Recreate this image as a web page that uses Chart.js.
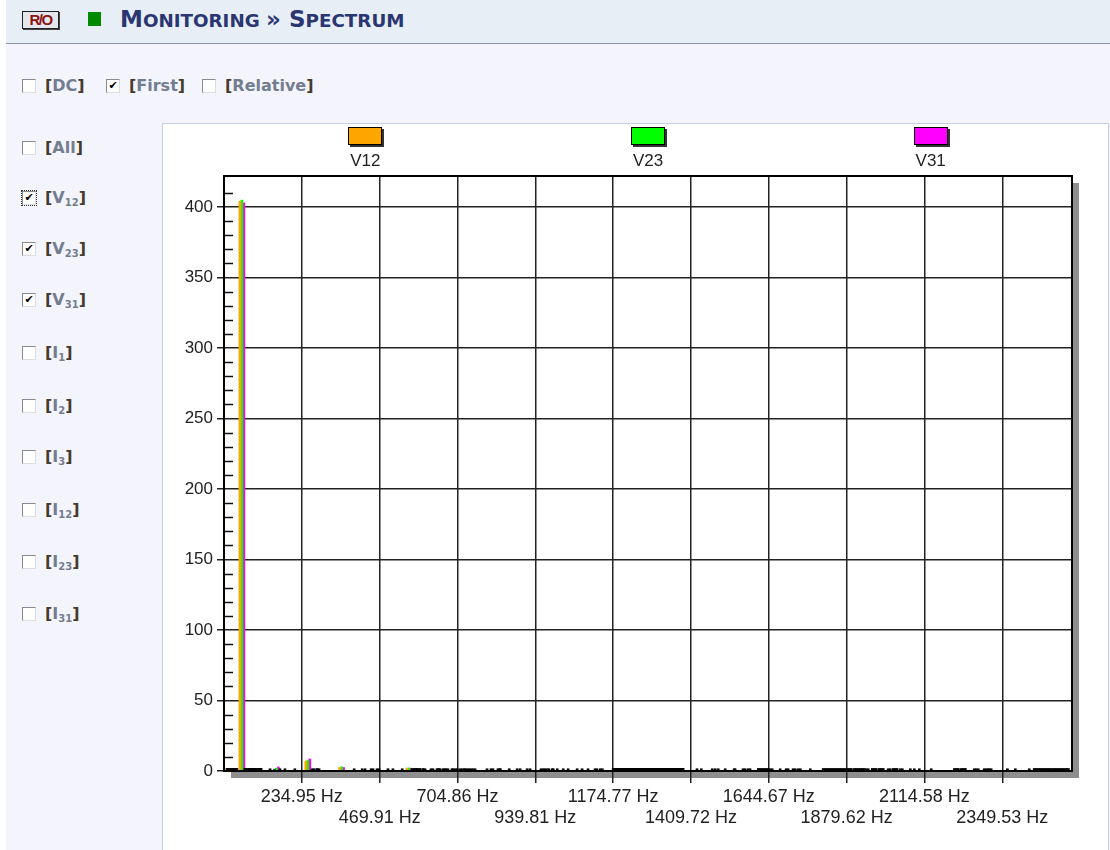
<!DOCTYPE html>
<html>
<head>
<meta charset="utf-8">
<script src="https://cdn.jsdelivr.net/npm/chart.js@4.4.0/dist/chart.umd.min.js"></script>
<style>
  html, body { margin:0; padding:0; width:1110px; height:850px; overflow:hidden; background:#fff; }
  #page { position:absolute; left:6px; top:0; width:1104px; height:850px; background:#f3f4fc; }
  #header { position:absolute; left:6px; top:0; width:1104px; height:43px; background:#e8eef5; border-bottom:1.5px solid #8795a5; }
  #ro { position:absolute; left:22px; top:11px; width:35px; height:16px; border:1px solid #222; box-shadow:1px 1px 0 #444; background:#e4e8ee;
        font:bold 15px "Liberation Sans", Arial, sans-serif; color:#8c1414; letter-spacing:-1.5px; text-align:center; line-height:16px; }
  #sq { position:absolute; left:88px; top:12px; width:13px; height:14px; background:#008a00; }
  #title { position:absolute; left:120px; top:6px; font-family:"DejaVu Sans", Verdana, sans-serif; font-weight:bold; color:#2a3672; white-space:nowrap; }
  #title .big { font-size:23px; }
  #title .sm { font-size:18.3px; }
  .cb { position:absolute; width:12px; height:12px; background:#fff; border:1px solid; border-color:#8a8a8a #dcdcdc #dcdcdc #8a8a8a;
        font:bold 11px "DejaVu Sans", sans-serif; line-height:12px; text-align:center; color:#000; }
  .cb.focus { outline:1px dotted #333; outline-offset:0; }
  .lbl { position:absolute; font:bold 16px "DejaVu Sans", Verdana, sans-serif; color:#737d90; line-height:20px; white-space:nowrap; }
  .lbl b { color:#463a2e; font-weight:bold; }
  .lbl sub { font-size:10px; vertical-align:-3px; line-height:0; }
  #panel { position:absolute; left:162px; top:123px; width:945px; height:740px; background:#fff; border:1px solid #c3d0e4; }
  #c { position:absolute; left:0; top:0; }
</style>
</head>
<body>
<div id="page"></div>
<div id="header"></div>
<div id="ro">R/O</div>
<div id="sq"></div>
<div id="title"><span class="big">M</span><span class="sm">ONITORING </span><span class="big">» S</span><span class="sm">PECTRUM</span></div>

<div class="cb" style="left:22px;top:79px"></div>
<div class="lbl" style="left:45px;top:76px"><b>[</b>DC<b>]</b></div>
<div class="cb" style="left:106px;top:79px">✔</div>
<div class="lbl" style="left:129px;top:76px"><b>[</b>First<b>]</b></div>
<div class="cb" style="left:202px;top:79px"></div>
<div class="lbl" style="left:225px;top:76px"><b>[</b>Relative<b>]</b></div>

<div id="side"></div>

<div id="panel"><canvas id="c" width="945" height="726"></canvas></div>

<script>
// ---- series ----
const seriesNames  = ['V12', 'V23', 'V31'];
const seriesColors = ['#FFA500', '#00FF00', '#FF00FF'];

// frequencies (Hz) of the drawn spectral lines
const freqs = [
  15, 33, 54, 69, 88, 106, 133, 158, 169, 178,
  220, 253, 272, 281, 287, 355, 387, 417, 432, 450,
  462, 495, 516, 532, 558, 574, 586, 601, 607, 631,
  643, 652, 661, 676, 682, 698, 704, 719, 734, 752,
  794, 812, 827, 840, 855, 885, 900, 909, 924, 963,
  981, 991, 1000, 1024, 1045, 1060, 1081, 1105, 1126, 1136,
  1181, 1199, 1217, 1235, 1253, 1271, 1290, 1308, 1326, 1344,
  1362, 1380, 1428, 1447, 1468, 1483, 1498, 1513, 1534, 1549,
  1573, 1582, 1619, 1637, 1655, 1679, 1703, 1718, 1733, 1746,
  1764, 1815, 1833, 1851, 1869, 1888, 1909, 1927, 1945, 1963,
  1984, 2005, 2026, 2048, 2078, 2099, 2141, 2211, 2232, 2271,
  2301, 2316, 2365, 2395, 2425, 2452, 2470, 2488, 2507, 2525,
  2543
];
const v12 = [
  1.9, 1.9, 404, 1.9, 1.9, 1.9, 0, 1, 0, 0,
  1.6, 7, 1.6, 0, 1.6, 2.5, 0, 0, 1.6, 1.6,
  0, 0, 1.6, 0, 2, 1.8, 1.8, 0, 1.6, 1.6,
  0, 1.6, 0, 1.6, 0, 1.6, 0, 1.6, 1.6, 1.6,
  0, 1.6, 0, 1.6, 0, 0, 1.6, 0, 0, 1.6,
  1.6, 0, 1.6, 0, 1.6, 0, 0, 1.6, 1.6, 0,
  1.9, 1.9, 1.9, 1.9, 1.9, 1.9, 1.9, 1.9, 1.9, 1.9,
  1.9, 1.9, 0, 1.6, 0, 0, 1.6, 0, 0, 1.6,
  1.6, 0, 1.8, 1.8, 1.6, 0, 1.6, 0, 0, 1.6,
  0, 1.8, 1.8, 1.8, 1.8, 1.8, 1.8, 1.8, 1.6, 1.8,
  1.8, 0, 1.8, 1.6, 1.6, 0, 1.6, 1.8, 1.8, 1.6,
  1.6, 1.6, 0, 1.6, 0, 1.8, 1.8, 1.8, 1.8, 1.8,
  1.8
];
const v23 = [
  1.9, 1.9, 405, 1.9, 1.9, 1.9, 0, 2, 1.6, 0,
  0, 7.5, 1.6, 1.6, 0, 3, 0, 1.6, 0, 1.6,
  1.6, 1.6, 0, 0, 2.2, 1.8, 1.8, 1.6, 0, 1.6,
  1.6, 1.6, 1.6, 1.6, 0, 1.6, 1.6, 1.6, 1.6, 1.6,
  1.6, 1.6, 1.6, 0, 0, 1.6, 0, 0, 1.6, 1.6,
  1.6, 1.6, 0, 1.6, 0, 0, 1.6, 0, 1.6, 1.6,
  1.9, 1.9, 1.9, 1.9, 1.9, 1.9, 1.9, 1.9, 1.9, 1.9,
  1.9, 1.9, 1.6, 0, 0, 1.6, 0, 1.6, 0, 0,
  1.6, 1.6, 1.8, 1.8, 1.6, 1.6, 1.6, 1.6, 1.6, 0,
  0, 1.8, 1.8, 1.8, 1.8, 1.8, 1.8, 1.8, 1.6, 1.8,
  1.8, 1.6, 1.8, 1.6, 0, 1.6, 0, 1.8, 1.8, 1.6,
  1.6, 1.6, 1.6, 0, 0, 1.8, 1.8, 1.8, 1.8, 1.8,
  1.8
];
const v31 = [
  1.9, 1.9, 403, 1.9, 1.9, 1.9, 1.6, 2.8, 0, 1.6,
  0, 8.5, 0, 1.6, 0, 2.5, 1.6, 0, 0, 0,
  1.6, 0, 0, 1.6, 2, 1.8, 1.8, 1.6, 0, 0,
  1.6, 0, 1.6, 0, 1.6, 0, 0, 1.6, 1.6, 1.6,
  0, 0, 1.6, 0, 1.6, 0, 0, 1.6, 0, 1.6,
  0, 0, 1.6, 0, 0, 1.6, 0, 0, 0, 1.6,
  1.9, 1.9, 1.9, 1.9, 1.9, 1.9, 1.9, 1.9, 1.9, 1.9,
  1.9, 1.9, 0, 0, 1.6, 0, 0, 0, 1.6, 0,
  0, 1.6, 1.8, 1.8, 0, 0, 0, 1.6, 0, 0,
  1.6, 1.8, 1.8, 1.8, 1.8, 1.8, 1.8, 1.8, 0, 1.8,
  1.8, 1.6, 1.8, 0, 1.6, 0, 0, 1.8, 1.8, 1.6,
  1.6, 0, 0, 0, 1.6, 1.8, 1.8, 1.8, 1.8, 1.8,
  1.8
];

// x-axis tick positions and labels
const tickHz = [234.95, 469.91, 704.86, 939.81, 1174.77, 1409.72, 1644.67, 1879.62, 2114.58, 2349.53];
const tickLabels = ['234.95 Hz', '469.91 Hz', '704.86 Hz', '939.81 Hz', '1174.77 Hz', '1409.72 Hz', '1644.67 Hz', '1879.62 Hz', '2114.58 Hz', '2349.53 Hz'];
const xMax = 2560;
const yMax = 422;

// side checkbox list
const sideItems = [
  ['All', '', false], ['V', '12', true], ['V', '23', true], ['V', '31', true],
  ['I', '1', false], ['I', '2', false], ['I', '3', false],
  ['I', '12', false], ['I', '23', false], ['I', '31', false]
];
const sideCenters = [148, 198, 249, 300, 353, 406, 457, 510, 562, 614];

// ---- build side checkboxes ----
const side = document.getElementById('side');
sideItems.forEach((it, i) => {
  const cy = sideCenters[i];
  const cb = document.createElement('div');
  cb.className = 'cb' + (i === 1 ? ' focus' : '');
  cb.style.left = '22px'; cb.style.top = (cy - 7) + 'px';
  if (it[2]) cb.textContent = '✔';
  side.appendChild(cb);
  const lb = document.createElement('div');
  lb.className = 'lbl';
  lb.style.left = '45px'; lb.style.top = (cy - 10) + 'px';
  lb.innerHTML = '<b>[</b>' + it[0] + (it[1] ? '<sub>' + it[1] + '</sub>' : '') + '<b>]</b>';
  side.appendChild(lb);
});

// ---- chart ----
Chart.defaults.font.family = '"Liberation Sans", Arial, sans-serif';

const frame = {
  id: 'frame',
  beforeDraw(chart) {
    const { ctx, chartArea: a } = chart;
    ctx.save();
    ctx.fillStyle = '#8e8e8e';
    ctx.fillRect(a.left + 7, a.top + 7, a.right - a.left, a.bottom - a.top);
    ctx.fillStyle = '#ffffff';
    ctx.fillRect(a.left, a.top, a.right - a.left, a.bottom - a.top);
    ctx.restore();
  },
  afterDatasetsDraw(chart) {
    const { ctx, chartArea: a } = chart;
    const ys = chart.scales.y;
    ctx.save();
    ctx.strokeStyle = '#111';
    ctx.lineWidth = 1.5;
    ys.ticks.forEach(t => {
      if (Math.round(t.value) % 50 !== 0) {
        const y = Math.round(ys.getPixelForValue(t.value)) + 0.5;
        ctx.beginPath();
        ctx.moveTo(a.left + 1, y);
        ctx.lineTo(a.left + 9, y);
        ctx.stroke();
      }
    });
    ctx.strokeStyle = '#000';
    ctx.lineWidth = 2;
    ctx.strokeRect(a.left, a.top, a.right - a.left, a.bottom - a.top);
    ctx.restore();
  },
  afterDraw(chart) {
    const { ctx, chartArea: a } = chart;
    const w = (a.right - a.left) / seriesNames.length;
    ctx.save();
    seriesNames.forEach((name, i) => {
      const cx = a.left + (i + 0.5) * w;
      const bx = Math.round(cx - 17), by = 3;
      ctx.fillStyle = '#333';
      ctx.fillRect(bx + 2, by + 2, 34, 18);
      ctx.fillStyle = seriesColors[i];
      ctx.fillRect(bx, by, 34, 18);
      ctx.strokeStyle = '#000';
      ctx.lineWidth = 1;
      ctx.strokeRect(bx + 0.5, by + 0.5, 33, 17);
      ctx.fillStyle = '#222';
      ctx.font = '17px "Liberation Sans", Arial, sans-serif';
      ctx.textAlign = 'center';
      ctx.textBaseline = 'middle';
      ctx.fillText(name, cx, 37);
    });
    ctx.restore();
  }
};

const datasets = [v12, v23, v31].map((vals, i) => ({
  label: seriesNames[i],
  data: freqs.map((f, j) => ({ x: f, y: vals[j] })),
  backgroundColor: c => (c.raw && c.raw.y < 2) ? '#000' : seriesColors[i],
  borderWidth: 0,
  barThickness: 2
}));

new Chart(document.getElementById('c'), {
  type: 'bar',
  data: { datasets },
  options: {
    responsive: false,
    animation: false,
    devicePixelRatio: 1,
    layout: { padding: { top: 52, right: 36, left: 0, bottom: 0 } },
    plugins: { legend: { display: false }, tooltip: { enabled: false } },
    scales: {
      x: {
        type: 'linear',
        min: 0,
        max: xMax,
        offset: false,
        afterBuildTicks: s => { s.ticks = tickHz.map(v => ({ value: v })); },
        afterFit: s => { s.height = 79; },
        ticks: {
          autoSkip: false, maxRotation: 0, minRotation: 0, padding: 3,
          color: '#222',
          font: { size: 18, lineHeight: 1.2 },
          callback: (v, i) => (i % 2 === 0 ? [tickLabels[i]] : ['', tickLabels[i]])
        },
        grid: { offset: false, color: '#222', lineWidth: 1.5, tickLength: 12, tickColor: '#222', tickWidth: 1.5 },
        border: { display: true, color: '#000', width: 2 }
      },
      y: {
        min: 0,
        max: yMax,
        afterBuildTicks: s => { s.ticks = s.ticks.filter(t => Math.abs(t.value / 10 - Math.round(t.value / 10)) < 1e-6); },
        afterFit: s => { s.width = 61; },
        ticks: {
          stepSize: 10, autoSkip: false, padding: 4, color: '#222',
          font: { size: 17 },
          callback: v => (Math.round(v) % 50 === 0 ? String(v) : '')
        },
        grid: {
          color: c => (c.tick && Math.round(c.tick.value) % 50 === 0 ? '#222' : 'rgba(0,0,0,0)'),
          tickColor: c => (c.tick && Math.round(c.tick.value) % 50 === 0 ? '#222' : 'rgba(0,0,0,0)'),
          lineWidth: 1.5, tickLength: 7, tickWidth: 1.5
        },
        border: { display: true, color: '#000', width: 2 }
      }
    }
  },
  plugins: [frame]
});
</script>
</body>
</html>
